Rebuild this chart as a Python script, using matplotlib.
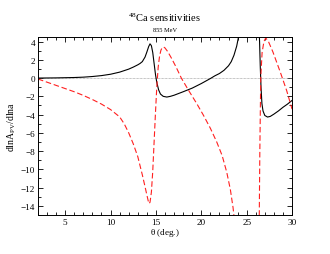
import numpy as np
import matplotlib
matplotlib.use('Agg')
import matplotlib.pyplot as plt
from matplotlib.ticker import MultipleLocator

plt.rcParams['font.family'] = ['Liberation Serif', 'DejaVu Serif']
plt.rcParams['mathtext.fontset'] = 'custom'
plt.rcParams['mathtext.rm'] = 'Liberation Serif'
plt.rcParams['mathtext.it'] = 'Liberation Serif'

# black solid curve (nan = break across the pole)
theta_black = [2, 4, 6, 7, 8, 9, 10, 11, 12, 12.5, 13, 13.25, 13.5, 13.8, 14.0, 14.2, 14.35,
               14.5, 14.65, 14.8, 14.95, 15.1, 15.3, 15.5, 15.8, 16.2, 16.6, 17, 18, 19, 20,
               21, 21.5, 22, 22.5, 23, 23.3, 23.6, 23.9, 24.1, 24.3, np.nan,
               26.35, 26.42, 26.5, 26.58, 26.68, 26.8, 27.0, 27.3, 27.6, 28, 28.5, 29, 29.5, 30]
black = [0, 0.02, 0.06, 0.1, 0.17, 0.27, 0.42, 0.65, 0.98, 1.2, 1.45, 1.6, 1.8, 2.3, 2.85,
         3.45, 3.75, 3.55, 2.8, 1.6, 0.4, -0.5, -1.3, -1.75, -2.0, -2.08, -2.0, -1.88, -1.5,
         -1.1, -0.6, -0.05, 0.25, 0.5, 0.85, 1.35, 1.8, 2.5, 3.5, 4.5, 5.8, np.nan,
         6, 4.0, 1.2, -1.0, -2.8, -3.6, -4.1, -4.27, -4.2, -3.95, -3.6, -3.2, -2.85, -2.45]

# red dashed curve
theta_red = [2, 3, 4, 5, 6, 7, 8, 9, 10, 11, 11.5, 12, 12.5, 13, 13.5, 13.8, 14.0, 14.15,
             14.25, 14.35, 14.5, 14.65, 14.8, 14.95, 15.1, 15.25, 15.4, 15.55, 15.7, 15.85,
             16.0, 16.3, 16.7, 17.2, 17.8, 18.6, 19.5, 20.25, 21, 21.7, 22.3, 22.8, 23.2,
             23.5, 23.7, np.nan,
             26.38, 26.45, 26.55, 26.7, 26.9, 27.1, 27.4, 27.9, 28.7, 29.4, 30]
red = [-0.1, -0.45, -0.8, -1.15, -1.5, -1.9, -2.35, -2.85, -3.45, -4.25, -5.0, -6.0, -7.2,
       -8.6, -10.6, -11.9, -12.8, -13.45, -13.75, -13.6, -12.5, -10.2, -7.0, -3.8, -0.9,
       1.2, 2.4, 3.05, 3.35, 3.4, 3.3, 2.9, 2.2, 1.25, 0, -1.35, -2.8, -4.1, -5.5, -7.0,
       -8.5, -10.3, -12.2, -14.2, -16, np.nan,
       -16, -8, 0, 2.8, 4.0, 4.4, 4.0, 2.84, 0.66, -1.35, -3.4]

fig = plt.figure(figsize=(3.3, 2.55), dpi=100)
ax = fig.add_axes([0.115, 0.153, 0.77, 0.698])

ax.axhline(0, color='0.55', lw=0.5, ls=(0, (1, 1)))
ax.plot(theta_black, black, color='black', lw=0.8)
ax.plot(theta_red, red, color='#ff2020', lw=0.8, ls=(0, (5, 2.5)))

ax.set_xlim(2, 30)
ax.set_ylim(-15, 4.5)
ax.xaxis.set_major_locator(MultipleLocator(5))
ax.xaxis.set_minor_locator(MultipleLocator(1))
ax.yaxis.set_major_locator(MultipleLocator(2))
ax.yaxis.set_minor_locator(MultipleLocator(1))
ax.tick_params(which='both', direction='in', top=True, right=True, labelsize=6.6, pad=2)
ax.tick_params(which='major', length=3.5, width=0.6)
ax.tick_params(which='minor', length=2, width=0.6)
for s in ax.spines.values():
    s.set_linewidth(0.7)

ax.set_xlabel(r'$\theta$ (deg.)', fontsize=6.6, labelpad=0)
ax.set_ylabel(r'dlnA$_\mathregular{PV}$/dlna', fontsize=7, labelpad=2)

fig.text(0.5, 0.905, r'$^{48}$Ca sensitivities', ha='center', va='bottom', fontsize=7.6)
fig.text(0.5, 0.87, '855 MeV', ha='center', va='bottom', fontsize=4.6)

fig.savefig('out.png', dpi=100)
